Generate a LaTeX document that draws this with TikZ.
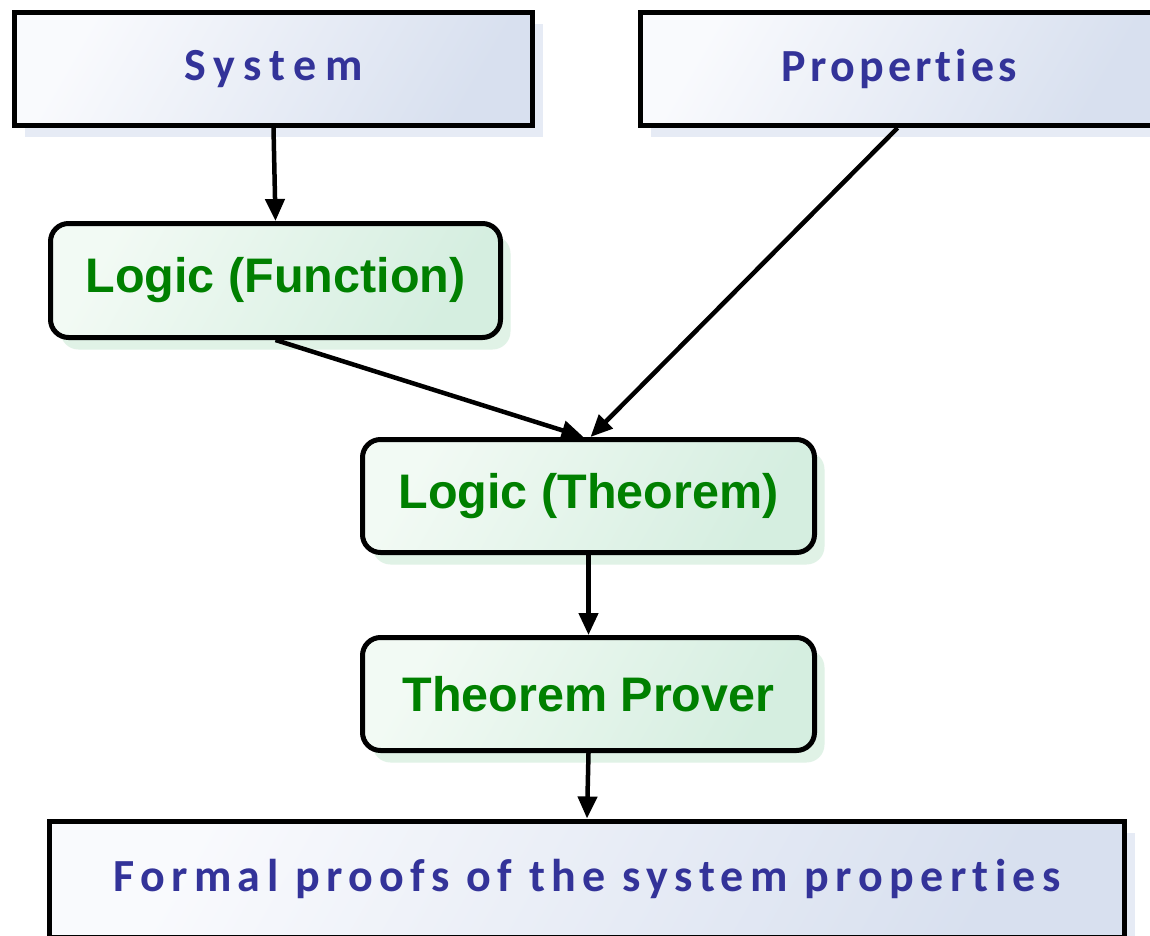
\documentclass[tikz,border=0pt]{standalone}
\usepackage{fontspec}
\usetikzlibrary{arrows.meta,shadows,calc}
\newfontfamily\blufont[LetterSpace=14,Ligatures={NoCommon}]{Carlito}
\newfontfamily\blufontnarrow[LetterSpace=9,Ligatures={NoCommon}]{Carlito}
\newfontfamily\blufontwide[LetterSpace=18,Ligatures={NoCommon}]{Carlito}
\newfontfamily\grnfont{Liberation Sans}
\definecolor{bluetext}{RGB}{51,51,153}
\definecolor{greentext}{RGB}{0,128,0}
\definecolor{bluelight}{RGB}{249,250,253}
\definecolor{bluedark}{RGB}{216,224,239}
\definecolor{blueshadow}{RGB}{230,235,245}
\definecolor{greenlight}{RGB}{242,250,244}
\definecolor{greendark}{RGB}{213,238,224}
\definecolor{greenshadow}{RGB}{224,242,230}
\tikzset{
  bluebox/.style={draw=black, line width=5pt, rectangle,
    left color=bluelight, right color=bluedark, shading angle=60,
    drop shadow={shadow xshift=10pt, shadow yshift=-12pt, fill=blueshadow, draw=none, opacity=1},
    text=bluetext, font=\blufont\bfseries\fontsize{46}{54}\selectfont, inner sep=0pt},
  greenbox/.style={draw=black, line width=5pt, rectangle, rounded corners=18pt,
    left color=greenlight, right color=greendark, shading angle=60,
    drop shadow={shadow xshift=10pt, shadow yshift=-12pt, fill=greenshadow, draw=none, opacity=1},
    text=greentext, font=\grnfont\bfseries\fontsize{48.5}{56}\selectfont, inner sep=0pt},
  arr/.style={draw=black, line width=4.5pt, -{Triangle[length=22pt,width=19pt]}},
}
\begin{document}
\begin{tikzpicture}[x=1pt,y=-1pt]
\path[use as bounding box, clip] (0,0) rectangle (1150,936);
\fill[white] (0,0) rectangle (1150,936);
\node[bluebox, minimum width=518pt, minimum height=113pt, font=\blufontwide\bfseries\fontsize{46}{54}\selectfont] (sys) at (273.5,69) {System};
\node[bluebox, minimum width=518pt, minimum height=113pt, font=\blufontnarrow\bfseries\fontsize{46}{54}\selectfont] (prop) at (899.5,69) {Properties};
\node[greenbox, minimum width=450pt, minimum height=114pt] (lf) at (275.5,280.5) {Logic (Function)};
\node[greenbox, minimum width=452pt, minimum height=113pt] (lt) at (588.5,496) {Logic (Theorem)};
\node[greenbox, minimum width=452pt, minimum height=113pt] (tp) at (588.5,694) {Theorem Prover};
\node[bluebox, minimum width=1075pt, minimum height=116pt] (fp) at (587,879) {Formal proofs of the system properties};
\draw[arr] (sys.south) -- (lf.north);
\draw[arr] ($(prop.south)+(-2,0)$) -- ($(lt.north)+(2,0)$);
\draw[arr] (lf.south) -- ($(lt.north)+(-5,0)$);
\draw[arr] (lt.south) -- (tp.north);
\draw[arr] (tp.south) -- (fp.north);
\end{tikzpicture}
\end{document}
